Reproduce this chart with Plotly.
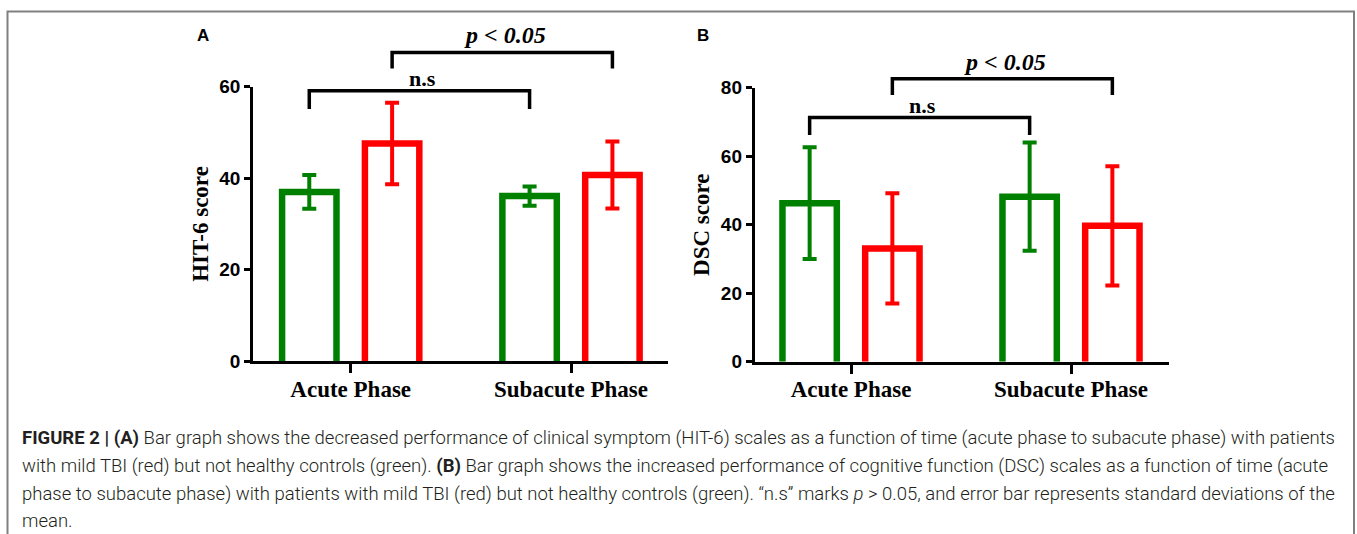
import plotly.graph_objects as go

W, H = 1357, 534

# ---------------- data ----------------
categories = ["Acute Phase", "Subacute Phase"]

hit6_control_mean = [37.0, 36.1]
hit6_control_sd = [3.7, 2.1]
hit6_tbi_mean = [47.6, 40.7]
hit6_tbi_sd = [8.9, 7.3]

dsc_control_mean = [46.3, 48.2]
dsc_control_sd = [16.3, 15.8]
dsc_tbi_mean = [33.1, 39.7]
dsc_tbi_sd = [16.1, 17.4]

hit6_ticks = [0, 20, 40, 60]
dsc_ticks = [0, 20, 40, 60, 80]

# significance brackets: label, series (0 = control, 1 = TBI), top height, leg bottom
hit6_brackets = [("n.s", 0, 59.1, 55.1), ("p < 0.05", 1, 67.5, 64.0)]
dsc_brackets = [("n.s", 0, 71.3, 66.2), ("p < 0.05", 1, 82.6, 77.9)]

caption_lines = [
    "<b>FIGURE 2 | (A)</b> Bar graph shows the decreased performance of clinical symptom (HIT-6) scales as a function of time (acute phase to subacute phase) with patients",
    "with mild TBI (red) but not healthy controls (green). <b>(B)</b> Bar graph shows the increased performance of cognitive function (DSC) scales as a function of time (acute",
    "phase to subacute phase) with patients with mild TBI (red) but not healthy controls (green). \u201cn.s\u201d marks <i>p</i> &gt; 0.05, and error bar represents standard deviations of the",
    "mean.",
]

# ---------------- style ----------------
GREEN = "#008000"
RED = "#ff0000"
BAR_OFFSET = 0.188
BAR_W = 0.247
BAR_LW = 6.5
SERIF = "Liberation Serif, Times New Roman, serif"
SANS = "Liberation Sans, Arial, sans-serif"


def px_x(p):
    return p / W


def px_y(p):
    return 1 - p / H


panels = [
    dict(name="A", ytitle="HIT-6 score", ticks=hit6_ticks,
         series=[(hit6_control_mean, hit6_control_sd, GREEN), (hit6_tbi_mean, hit6_tbi_sd, RED)],
         brackets=hit6_brackets,
         left=253.2, right=668.0, bottom=361.2, top=86.7, cat0=350.7, step=220.3,
         letter=(203, 35)),
    dict(name="B", ytitle="DSC score", ticks=dsc_ticks,
         series=[(dsc_control_mean, dsc_control_sd, GREEN), (dsc_tbi_mean, dsc_tbi_sd, RED)],
         brackets=dsc_brackets,
         left=754.8, right=1169.0, bottom=361.8, top=87.7, cat0=851.0, step=220.0,
         letter=(703, 35)),
]

fig = go.Figure()
layout = dict(
    width=W, height=H,
    margin=dict(l=0, r=0, t=0, b=0, pad=0, autoexpand=False),
    paper_bgcolor="white", plot_bgcolor="rgba(0,0,0,0)",
    showlegend=False, hovermode=False,
    annotations=[], shapes=[],
)

for i, p in enumerate(panels):
    xn = "x" if i == 0 else "x2"
    yn = "y" if i == 0 else "y2"
    yb = "y3" if i == 0 else "y4"
    xkey = "xaxis" if i == 0 else "xaxis2"
    ykey = "yaxis" if i == 0 else "yaxis2"
    ybkey = "yaxis3" if i == 0 else "yaxis4"
    ymax = p["ticks"][-1]
    xr = [(p["left"] - p["cat0"]) / p["step"], (p["right"] - p["cat0"]) / p["step"]]
    ybr = ymax * p["bottom"] / (p["bottom"] - p["top"])
    cat_x = list(range(len(categories)))

    layout[xkey] = dict(
        domain=[px_x(p["left"]), px_x(p["right"])], range=xr, anchor=yn,
        tickvals=cat_x, ticktext=categories, ticks="outside", ticklen=9, tickwidth=3,
        tickcolor="black", showline=True, linewidth=3, linecolor="black",
        showgrid=False, zeroline=False, fixedrange=True, automargin=False,
        ticklabelstandoff=-4,
        tickfont=dict(family=SERIF, size=23, color="black", weight="bold"),
    )
    layout[ykey] = dict(
        domain=[px_y(p["bottom"]), px_y(p["top"])], range=[0, ymax], anchor=xn,
        tickvals=p["ticks"], ticks="outside", ticklen=6, tickwidth=3, tickcolor="black",
        showline=True, linewidth=3, linecolor="black", showgrid=False, zeroline=False,
        automargin=False, fixedrange=True,
        tickfont=dict(family=SANS, size=19, color="black", weight="bold"),
        title=dict(text=p["ytitle"], font=dict(family=SERIF, size=23, color="black", weight="bold"),
                   standoff=5),
    )
    layout[ybkey] = dict(
        domain=[px_y(p["bottom"]), 1.0], range=[0, ybr], anchor=xn, visible=False,
        showgrid=False, zeroline=False, automargin=False, fixedrange=True,
    )

    # bars (open outlines)
    for s, (means, sds, color) in enumerate(p["series"]):
        off = -BAR_OFFSET if s == 0 else BAR_OFFSET
        bx, by = [], []
        for c, m in zip(cat_x, means):
            xc = c + off
            bx += [xc - BAR_W / 2, xc - BAR_W / 2, xc + BAR_W / 2, xc + BAR_W / 2, None]
            by += [0, m, m, 0, None]
        fig.add_trace(go.Scatter(x=bx, y=by, xaxis=xn, yaxis=yn, mode="lines",
                                 line=dict(color=color, width=BAR_LW), hoverinfo="skip"))
        fig.add_trace(go.Scatter(
            x=[c + off for c in cat_x], y=means, xaxis=xn, yaxis=yn, mode="markers",
            marker=dict(size=1, color="rgba(0,0,0,0)"),
            error_y=dict(type="data", array=sds, visible=True, color=color, thickness=4, width=7),
        ))

    # significance brackets
    for label, s, htop, hleg in p["brackets"]:
        off = -BAR_OFFSET if s == 0 else BAR_OFFSET
        x1, x2 = cat_x[0] + off, cat_x[1] + off
        fig.add_trace(go.Scatter(x=[x1, x1, x2, x2], y=[hleg, htop, htop, hleg],
                                 xaxis=xn, yaxis=yb, mode="lines",
                                 line=dict(color="black", width=3.5), hoverinfo="skip"))
        if label.startswith("p"):
            txt = "<b><i>p &lt; 0.05</i></b>"
            size = 24
            ysh = 2
        else:
            txt = "<b>n.s</b>"
            size = 22
            ysh = -2
        layout["annotations"].append(dict(
            x=(x1 + x2) / 2, y=htop, xref=xn, yref=yb, text=txt, showarrow=False,
            xanchor="center", yanchor="bottom", yshift=ysh, xshift=3,
            font=dict(family=SERIF, size=size, color="black"),
        ))

    layout["annotations"].append(dict(
        x=px_x(p["letter"][0]), y=px_y(p["letter"][1]), xref="paper", yref="paper",
        text="<b>%s</b>" % p["name"], showarrow=False, xanchor="center", yanchor="middle",
        font=dict(family=SANS, size=17, color="black"),
    ))

# caption
cap_y = [438, 466, 494, 521]
for line, yy in zip(caption_lines, cap_y):
    layout["annotations"].append(dict(
        x=px_x(20), y=px_y(yy), xref="paper", yref="paper", text=line, showarrow=False,
        xanchor="left", yanchor="middle", align="left",
        font=dict(family="Roboto, Liberation Sans, sans-serif", size=18.5, color="#231f20", weight=300),
    ))

# frame around the figure
layout["shapes"].append(dict(
    type="path", xref="paper", yref="paper",
    path="M %f,%f L %f,%f L %f,%f L %f,%f" % (px_x(7.5), px_y(560), px_x(7.5), px_y(11.5),
                                            px_x(1354), px_y(11.5), px_x(1354), px_y(560)),
    line=dict(color="#808080", width=2),
))

fig.update_layout(**layout)
fig.write_html(
    "out.html",
    config={"displayModeBar": False, "staticPlot": True},
    post_script="document.body.style.margin='0px';document.body.style.padding='0px';"
                "document.body.style.overflow='hidden';",
)
